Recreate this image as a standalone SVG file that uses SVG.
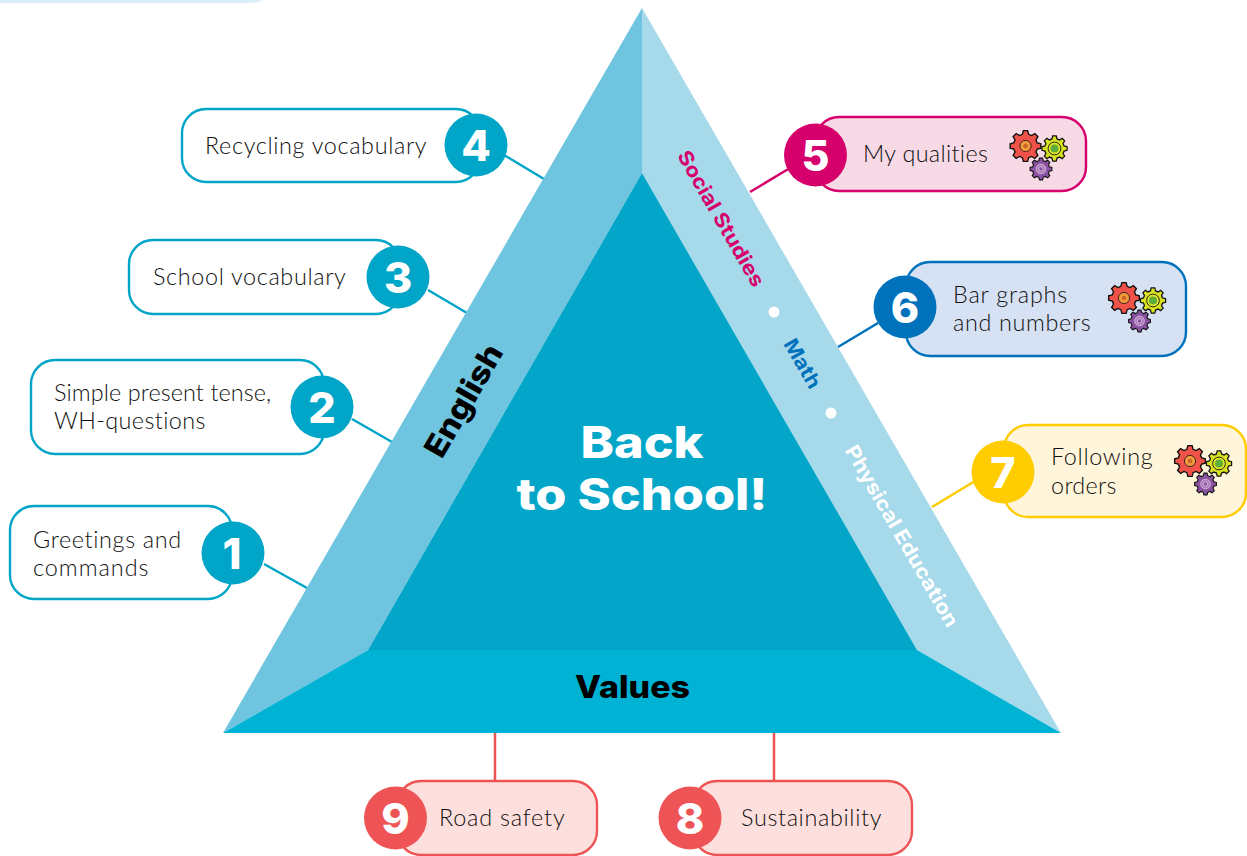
<svg xmlns="http://www.w3.org/2000/svg" width="1247" height="856" viewBox="0 0 1247 856">
<style>
.box{stroke-width:2.4}
.lbl{font-family:"Lato","Open Sans",sans-serif;font-size:23.4px;fill:#111;font-weight:300;letter-spacing:.65px}
.num{font-family:"Inter","Liberation Sans",sans-serif;font-size:43px;font-weight:800;fill:#fff;text-anchor:middle}
.hd{font-family:"Inter","Liberation Sans",sans-serif;font-weight:800;text-anchor:middle}
.sub{font-family:"Inter","Liberation Sans",sans-serif;font-weight:700;font-size:20px;text-anchor:middle}
.con{stroke-width:2.5;fill:none}
</style>
<defs>
<path id="g" d="M7.53-2.02L9.9-1.39L9.9 1.39L7.53 2.02L6.75 3.9L7.99 6.02L6.02 7.99L3.9 6.75L2.02 7.53L1.39 9.9L-1.39 9.9L-2.02 7.53L-3.9 6.75L-6.02 7.99L-7.99 6.02L-6.75 3.9L-7.53 2.02L-9.9 1.39L-9.9-1.39L-7.53-2.02L-6.75-3.9L-7.99-6.02L-6.02-7.99L-3.9-6.75L-2.02-7.53L-1.39-9.9L1.39-9.9L2.02-7.53L3.9-6.75L6.02-7.99L7.99-6.02L6.75-3.9Z"/>
<g id="gears">
<g transform="scale(1.55)"><use href="#g" fill="#ee5249" stroke="#111" stroke-width=".9"/><circle r="3.6" fill="#f39a3d" stroke="#111" stroke-width=".5"/><circle r="1.5" fill="#c9662a"/></g>
<g transform="translate(29,2.5) scale(1.27)"><use href="#g" fill="#d8e022" stroke="#111" stroke-width="1"/><circle r="5" fill="#e4e826" stroke="#111" stroke-width=".7"/><circle r="3.2" fill="#5fae3a"/></g>
<g transform="translate(15.5,23) scale(1.1)"><use href="#g" fill="#8b52a1" stroke="#111" stroke-width="1"/><circle r="4.4" fill="#b07cc0" stroke="#eee" stroke-width=".5"/><circle r="2" fill="#8b52a1" stroke="#eee" stroke-width=".5"/></g>
</g>
</defs>
<rect width="1247" height="856" fill="#fff"/>
<path d="M0 0H263Q258 3 250 3H0Z" fill="#dcedf7"/>
<g id="connectors" class="con">
<path d="M504 155L544 179M428 290L467 313M352 419L392 442M264 564L307 588" stroke="#00a5c8"/>
<path d="M750 192L790 168" stroke="#d6006d"/>
<path d="M838 347L878 323" stroke="#0072bc"/>
<path d="M932 507L975 481" stroke="#ffcc00"/>
<path d="M495 733V782M774 733V782" stroke="#ee5455"/>
</g>
<g id="triangle">
<path d="M642 8L223 733L368 650L642 173Z" fill="#6fc5e0"/>
<path d="M642 8L1061 733L917 650L642 173Z" fill="#a6d9ea"/>
<path d="M642 173L368 650H917Z" fill="#03a6c9"/>
<path d="M368 650H917L1061 733H223Z" fill="#00b3d5"/>
<text class="hd" transform="translate(642,458) scale(1.145,1)" font-size="44" fill="#fff">Back</text>
<text class="hd" transform="translate(642,510) scale(1.145,1)" font-size="44" fill="#fff">to School!</text>
<text class="hd" transform="translate(632.5,698) scale(1.095,1)" font-size="31" fill="#000">Values</text>
<text class="hd" transform="translate(473,406) rotate(-60) scale(1.1,1)" font-size="31" fill="#000">English</text>
<text class="sub" transform="translate(715,222) rotate(60) scale(1.11,1)" fill="#d6006d">Social Studies</text>
<text class="sub" transform="translate(796.5,367) rotate(60) scale(1.07,1)" fill="#0072bc" font-size="18">Math</text>
<text class="sub" transform="translate(896,539.5) rotate(60) scale(1.11,1)" fill="#fff">Physical Education</text>
<circle cx="774" cy="312" r="5.5" fill="#fff"/>
<circle cx="831" cy="413" r="5.5" fill="#fff"/>
</g>
<g id="node4"><rect class="box" x="182" y="109" width="298" height="73" rx="24" fill="#fff" stroke="#00a5c8"/><text class="lbl" x="205" y="154">Recycling vocabulary</text><circle cx="476" cy="145" r="31.5" fill="#00a5c8"/><text class="num" x="476" y="161">4</text></g>
<g id="node3"><rect class="box" x="129" y="240" width="271" height="74" rx="24" fill="#fff" stroke="#00a5c8"/><text class="lbl" x="153" y="285">School vocabulary</text><circle cx="398" cy="277" r="31.5" fill="#00a5c8"/><text class="num" x="398" y="293">3</text></g>
<g id="node2"><rect class="box" x="31" y="360" width="293" height="94" rx="24" fill="#fff" stroke="#00a5c8"/><text class="lbl" x="54" y="401" style="letter-spacing:.1px">Simple present tense,</text><text class="lbl" x="54" y="429" style="letter-spacing:.4px">WH-questions</text><circle cx="322" cy="407" r="31.5" fill="#00a5c8"/><text class="num" x="322" y="423">2</text></g>
<g id="node1"><rect class="box" x="10" y="506" width="222" height="93" rx="24" fill="#fff" stroke="#00a5c8"/><text class="lbl" x="33" y="548">Greetings and</text><text class="lbl" x="33" y="576" style="letter-spacing:1px">commands</text><circle cx="233" cy="553" r="31.5" fill="#00a5c8"/><text class="num" x="232" y="569">1</text></g>
<g id="node5"><rect class="box" x="815" y="117" width="271" height="74" rx="24" fill="#f7dae6" stroke="#d6006d"/><text class="lbl" x="863" y="162" style="letter-spacing:.33px">My qualities</text><use href="#gears" x="1025.5" y="146"/><circle cx="815.5" cy="155" r="31.5" fill="#d6006d"/><text class="num" x="815.5" y="171">5</text></g>
<g id="node6"><rect class="box" x="906" y="262" width="280" height="94" rx="24" fill="#d6e1f3" stroke="#0072bc"/><text class="lbl" x="953" y="303" style="letter-spacing:.8px">Bar graphs</text><text class="lbl" x="953" y="331">and numbers</text><use href="#gears" x="1124" y="298"/><circle cx="905" cy="307" r="31.5" fill="#0072bc"/><text class="num" x="905" y="323">6</text></g>
<g id="node7"><rect class="box" x="1004" y="425" width="242" height="92" rx="24" fill="#fff5da" stroke="#ffcc00"/><text class="lbl" x="1051" y="465">Following</text><text class="lbl" x="1051" y="494" style="letter-spacing:.33px">orders</text><use href="#gears" x="1190" y="461"/><circle cx="1003" cy="472" r="31.5" fill="#ffcc00"/><text class="num" x="1003" y="488">7</text></g>
<g id="node9"><rect class="box" x="397" y="781" width="200" height="74" rx="24" fill="#fde0dd" stroke="#ee5455"/><text class="lbl" x="439" y="826" style="letter-spacing:.8px">Road safety</text><circle cx="395.5" cy="818" r="31.5" fill="#ee5455"/><text class="num" x="395.5" y="834">9</text></g>
<g id="node8"><rect class="box" x="693" y="781" width="219" height="74" rx="24" fill="#fde0dd" stroke="#ee5455"/><text class="lbl" x="741" y="826">Sustainability</text><circle cx="690" cy="818" r="31.5" fill="#ee5455"/><text class="num" x="690" y="834">8</text></g>
</svg>
